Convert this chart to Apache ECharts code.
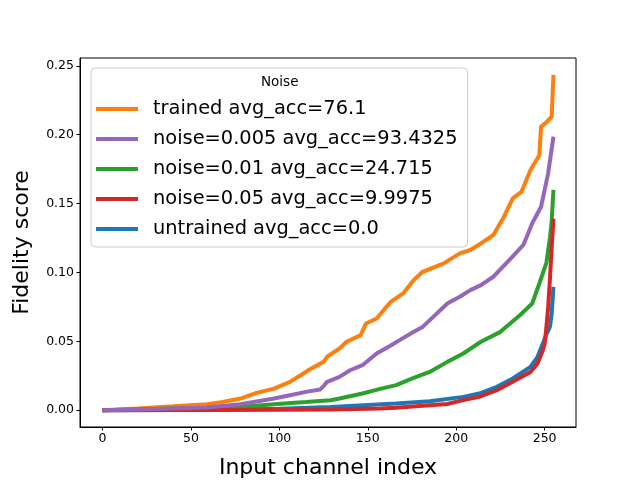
<!DOCTYPE html>
<html>
<head>
<meta charset="utf-8">
<script src="https://cdn.jsdelivr.net/npm/echarts@6/dist/echarts.min.js"></script>
<style>
  html, body { margin: 0; padding: 0; background: #fff; }
  #chart { width: 640px; height: 480px; }
</style>
</head>
<body>
<div id="chart"></div>
<script>
// [channel index, fidelity score]
let trained = [[0,0],[20,0.0012],[40,0.0028],[59,0.0044],[68,0.006],[78,0.0085],[87,0.0126],[97,0.0157],[106,0.0206],[112,0.0254],[118,0.0303],[125,0.0351],[127,0.0388],[134,0.0448],[138,0.0497],[146,0.0545],[149,0.063],[155,0.0666],[163,0.0787],[170,0.0848],[176,0.0945],[181,0.1005],[193,0.1066],[202,0.1139],[208,0.1163],[214,0.1211],[221,0.1272],[227,0.1405],[232,0.1538],[237,0.1587],[242,0.1744],[246,0.1829],[247,0.185],[248,0.2059],[251,0.209],[254,0.2132],[255,0.2435]];
let noise005 = [[0,0],[20,0.0005],[40,0.0012],[59,0.0019],[78,0.0044],[97,0.0085],[106,0.0109],[115,0.0133],[123,0.015],[125,0.0175],[127,0.0206],[134,0.0242],[140,0.029],[147,0.0327],[155,0.0412],[163,0.047],[168,0.0509],[176,0.0569],[181,0.0605],[187,0.0678],[195,0.0775],[202,0.0824],[208,0.0872],[214,0.0908],[221,0.0969],[230,0.109],[238,0.12],[243,0.1357],[248,0.1477],[252,0.172],[255,0.1986]];
let noise01 = [[0,0],[40,0.0012],[60,0.0018],[78,0.0024],[97,0.0044],[115,0.006],[129,0.0073],[134,0.0085],[147,0.0121],[157,0.0155],[166,0.0182],[176,0.0235],[185,0.0278],[195,0.0351],[204,0.0412],[214,0.0497],[225,0.0569],[236,0.069],[243,0.0775],[247,0.092],[251,0.107],[253,0.125],[254,0.137],[255,0.16]];
let noise05 = [[0,0],[60,0.0002],[100,0.0004],[129,0.0005],[157,0.0012],[166,0.0018],[185,0.0036],[195,0.0045],[204,0.0073],[213,0.0097],[223,0.0145],[232,0.0206],[242,0.0278],[246,0.034],[249,0.0436],[250,0.048],[251,0.06],[252,0.075],[253,0.095],[254,0.118],[255,0.139]];
let untrained = [[0,0],[60,0.0003],[100,0.001],[129,0.0024],[166,0.0048],[185,0.0065],[204,0.0097],[213,0.0121],[223,0.017],[232,0.023],[242,0.0315],[246,0.0388],[249,0.0485],[251,0.055],[253,0.0605],[254,0.07],[255,0.0896]];

let xTicks = [0, 50, 100, 150, 200, 250];
let yTicks = [0, 0.05, 0.10, 0.15, 0.20, 0.25];

let names = ['trained avg_acc=76.1', 'noise=0.005 avg_acc=93.4325', 'noise=0.01 avg_acc=24.715', 'noise=0.05 avg_acc=9.9975', 'untrained avg_acc=0.0'];

let font = 'DejaVu Sans';
let chartDom = document.getElementById('chart');
let myChart = echarts.init(chartDom);

function line(name, data, color){
    return {
        name: name,
        type: 'line',
        data: data,
        symbol: 'none',
        color: color,
        lineStyle: { width: 4, color: color },
        emphasis: { disabled: true }
    };
}

let option = {
    animation: false,
    backgroundColor: '#fff',
    grid: { left: 80, right: 64, top: 58, bottom: 53, show: true, borderColor: '#000', borderWidth: 1, outerBoundsMode: 'none' },
    graphic: [{
        type: 'text', left: 279 - 18, top: 75, z: 100,
        style: { text: 'Noise', fontFamily: font, fontSize: 13.5, fill: '#000' }
    }],
    legend: {
        data: names,
        orient: 'vertical',
        left: 91, top: 68,
        padding: [31, 10, 8, 5],
        itemWidth: 42, itemHeight: 4, itemGap: 10,
        icon: 'rect',
        borderColor: '#cccccc', borderWidth: 1, borderRadius: 4,
        backgroundColor: 'rgba(255,255,255,0.8)',
        textStyle: { fontFamily: font, fontSize: 19.4, color: '#000', lineHeight: 20, padding: [0, 0, 0, 10] }
    },
    xAxis: {
        type: 'value', min: -12.75, max: 267.75,
        name: 'Input channel index', nameLocation: 'middle', nameGap: 30,
        nameTextStyle: { fontFamily: font, fontSize: 22, color: '#000' },
        axisLine: { onZero: false, lineStyle: { color: '#000' } },
        axisTick: { length: 3.5, lineStyle: { color: '#000' }, customValues: xTicks },
        axisLabel: { fontFamily: font, fontSize: 12.5, color: '#000', margin: 5, customValues: xTicks },
        splitLine: { show: false }
    },
    yAxis: {
        type: 'value', min: -0.01218, max: 0.2557,
        name: 'Fidelity score', nameLocation: 'middle', nameGap: 47,
        nameTextStyle: { fontFamily: font, fontSize: 22, color: '#000' },
        axisLine: { onZero: false, lineStyle: { color: '#000' } },
        axisTick: { length: 3.5, lineStyle: { color: '#000' }, customValues: yTicks },
        axisLabel: { fontFamily: font, fontSize: 12.5, color: '#000', margin: 6, customValues: yTicks,
            formatter: function(v){ return v.toFixed(2); } },
        splitLine: { show: false }
    },
    series: [
        line(names[4], untrained, '#1f77b4'),
        line(names[0], trained, '#ff7f0e'),
        line(names[2], noise01, '#2ca02c'),
        line(names[3], noise05, '#d62728'),
        line(names[1], noise005, '#9467bd')
    ]
};

option && myChart.setOption(option);
</script>
</body>
</html>
